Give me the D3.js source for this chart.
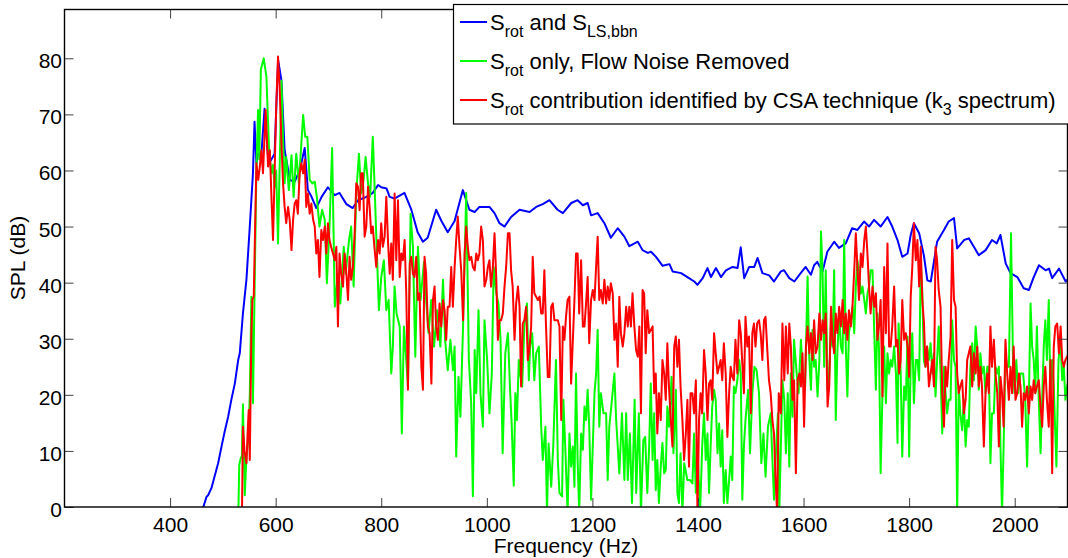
<!DOCTYPE html>
<html><head><meta charset="utf-8">
<script src="https://cdn.jsdelivr.net/npm/d3@7"></script>
<style>
html,body{margin:0;padding:0;background:#fff;}
svg{display:block;font-family:"Liberation Sans",Arial,Helvetica,sans-serif;}
</style></head><body>
<svg id="chart" width="1068" height="558"></svg>
<script>
const xTicks = [400, 600, 800, 1000, 1200, 1400, 1600, 1800, 2000];
const yTicks = [0, 10, 20, 30, 40, 50, 60, 70, 80];
const xTitle = "Frequency (Hz)";
const yTitle = "SPL (dB)";
const seriesColors = ["#0000ff", "#00ff00", "#ff0000"];
const legendLabels = [
  [["S", 0], ["rot", 1], [" and S", 0], ["LS,bbn", 1]],
  [["S", 0], ["rot", 1], [" only, Flow Noise Removed", 0]],
  [["S", 0], ["rot", 1], [" contribution identified by CSA technique (k", 0], ["3", 1], [" spectrum)", 0]]
];

const blueSeries = [[461,-2],[463,0],[469,1.8],[472,2.1],[478.5,3.4],[485,5.7],[491,7.8],[497.5,10.8],[504,13.7],[510,16.1],[516,19.1],[522.6,22],[529,26.2],[532,27.4],[538,34.5],[544.6,40.5],[551,50],[557,59.5],[560,68.7],[563.5,61.3],[566.7,63],[573,63],[579,71],[585.6,62.4],[591,61.8],[598,63],[604.6,79.7],[611,76],[617,63.6],[627,58.3],[636,58],[645.5,60],[655,64],[661,56.5],[668,55.3],[677,53.3],[687,55.3],[699,57],[712,55.6],[721,56],[734,54],[746,53.3],[756,54.7],[772,55.3],[784,56],[794,57.4],[800,57],[810,56.8],[816,55.3],[825,55],[844,56],[857,53],[869,49],[879,47.3],[888,48],[904,53],[914,51],[926,49],[939,51],[954.6,56.5],[967,53],[977,52.6],[986,53.5],[1005,53.5],[1014.6,52.4],[1024,50.6],[1033.5,50],[1046,51.7],[1062,53],[1081,52.6],[1093.5,53.5],[1106,54],[1118.6,54.7],[1134,53],[1144,52.4],[1160,54.2],[1172,54.7],[1182,53.8],[1191,54.2],[1197.5,52],[1210,52.4],[1222.7,50.6],[1235,48],[1248,49.7],[1260.6,48.2],[1270,46.5],[1286,47.3],[1295,45.8],[1305,45.3],[1311,45.5],[1320.5,44.6],[1333,43],[1346,43.3],[1352,42],[1368,41.7],[1380,41],[1393,40.2],[1399,39.6],[1409,40.8],[1418,42.6],[1424.6,41],[1434,42.6],[1443.5,41],[1453,42.2],[1465.5,42.8],[1475,42.6],[1481,46.3],[1487.6,40.8],[1497,42.8],[1506.6,42.8],[1513,44.4],[1522,41.7],[1535,41.3],[1544,40.2],[1557,42],[1563,42.2],[1573,40.8],[1582.6,40.2],[1592,41.4],[1604,42.8],[1614,41.4],[1620,43.1],[1626,43.7],[1636,42],[1645,45.5],[1658,47.3],[1667,46.2],[1680,47],[1692,49.7],[1702,49.4],[1714.6,50.9],[1724,50],[1733.6,51.2],[1746,50],[1759,51.7],[1768,50],[1778,47.6],[1787,44.6],[1797,45.2],[1803,48.5],[1809,50.6],[1819,48.8],[1828,44.8],[1834.5,40.4],[1841,40.2],[1853,47.3],[1866,49.4],[1875,50.9],[1885,51.5],[1891,46.1],[1904,47.6],[1913,47.9],[1922.6,46.4],[1932,44.9],[1945,45.8],[1957,47.6],[1966,47],[1973,48.5],[1983,43.4],[1992,41.7],[2005,41],[2017,39],[2027,38.7],[2036,41],[2046,43.1],[2058.5,42.2],[2065,42.5],[2071,40.8],[2084,42.5],[2096.5,40.2],[2100,40.5]];

const greenSeries = [[529,-3],[531,7.5],[534,8.8],[536,9],[538,18.3],[541.5,2.1],[544.7,9],[548,12],[551,20],[554,37.5],[557,18.5],[560,38],[563.5,60],[566.7,70.8],[569,62],[572,78],[577.4,80],[582.5,76.7],[587.5,63.6],[592,59.5],[595,61],[598,57],[601,60],[604.5,47],[611,76],[614,65.4],[617,57.7],[620,62.4],[625,56.5],[630,62.7],[634,55.3],[639,63],[644,57.7],[652,69.9],[656,66],[660,66],[664.5,58.3],[669.5,57.7],[674,58],[678,55.3],[683,50],[688,53],[693,51.2],[697,39.9],[702,50],[707,64],[712,35.7],[718,41.6],[722.5,36.3],[729,46.4],[732.6,41.6],[739,47.6],[743,50],[747.7,39.3],[752.7,55.9],[757.8,63],[762,55.9],[766.6,58.3],[770.4,62.4],[775,57.7],[779,55.3],[784,66],[787,58.3],[790,50],[793,42],[795.6,35.1],[800,41],[805,44],[809.6,35.1],[814,36.9],[819,23.8],[822,28.6],[825.3,39.3],[829,34.5],[835,32.2],[839,13.1],[843,32.2],[847.4,26.2],[850.6,21.5],[855.6,52.3],[860,46.4],[864.5,26.8],[869.5,46.4],[874.5,36.9],[881,43.7],[885,36.9],[889.7,31],[894.7,36.9],[900,28.6],[906,35.1],[912,28.6],[917,40.5],[921,29.8],[926,24.4],[931,29.8],[936,24.4],[939,28.6],[942,9],[946.4,23.2],[950,16.1],[955,32.2],[961,56],[966,26.2],[970.4,18.5],[973.6,1.9],[977,28],[980,20.3],[984.3,35.1],[988,20.3],[992.5,14.3],[995.6,33.3],[1000.6,26.2],[1005,16.7],[1009.5,23.8],[1013,42.8],[1018,38],[1022,36.3],[1026,29.8],[1030,9.6],[1035,27.4],[1040,31],[1044,21],[1047,15],[1051,3.8],[1054,20.3],[1057,15.5],[1060.6,26.2],[1063,23.8],[1067,21.5],[1071,32.2],[1076,36.3],[1079.6,22.6],[1082,28.6],[1086,31],[1090,22.6],[1093.5,27.4],[1098.5,28.6],[1103,14.3],[1106,8.4],[1111,14.3],[1114,-1],[1117,11.3],[1122,3.6],[1126,11.3],[1131,26.2],[1134.5,8.4],[1137.6,2.5],[1142.6,1.9],[1145,19.1],[1149,9.6],[1153,-1],[1156.5,13.1],[1159.7,7.2],[1163,10.8],[1166,3.6],[1169,23.8],[1172,8.4],[1175,-1],[1178.6,13.1],[1182,10.2],[1185,17.9],[1188,15.5],[1191,20.9],[1194,14.3],[1197.5,1.3],[1200.7,10.8],[1204,20.3],[1207,23.8],[1210,31.6],[1213,14.3],[1216,20.3],[1221,16.7],[1226,16.7],[1229,4.8],[1232,14.3],[1237,19.1],[1241.7,23.8],[1245,15.5],[1248,10.8],[1251,6],[1256,16.7],[1260.6,4.8],[1264,16.7],[1267,4.8],[1271,13.1],[1275,0.7],[1280,19.1],[1283,2.5],[1288,16.7],[1292,-1],[1296.5,11.9],[1300,12.5],[1304,2.5],[1307.5,10.8],[1310.6,22],[1314,8.4],[1317,16.7],[1320,3],[1323,8.4],[1326,0.7],[1329.5,7.2],[1332.7,11.4],[1336,6],[1339,6.6],[1342,17.9],[1345,14.3],[1350,23.2],[1353.5,9.6],[1358,20.9],[1361,2.5],[1364,0.7],[1367,9.6],[1370.5,-1],[1374,7.8],[1380,4.8],[1385,4.8],[1389.5,4.2],[1392.6,13.1],[1396,2.5],[1399,10.8],[1404,-1],[1408,10.8],[1411.5,16.7],[1414.7,8.4],[1418,13.1],[1421,2.5],[1424,10.8],[1427,17.9],[1430.5,20.9],[1433.6,19.1],[1437,9.6],[1440,14.9],[1443,7.2],[1446,13.7],[1449,0.7],[1452.5,6.6],[1455.7,0.7],[1459,4.8],[1462,9],[1465,4.8],[1468,21.5],[1471,20.3],[1474.6,22.6],[1478,26.2],[1481,23.8],[1484,1.3],[1487,10.8],[1490,15.5],[1495,20.9],[1498.6,9.6],[1503,20.3],[1507,25],[1511,24.4],[1515.6,20.3],[1520,7.8],[1524,13.1],[1528,5.4],[1532.6,14.3],[1537.7,16.7],[1541,8.4],[1544,1.3],[1547,8.4],[1551.5,16.7],[1554,-1],[1557,10.8],[1560,22.6],[1563.5,19.1],[1566.6,9.6],[1570,20.3],[1573,7.2],[1576,23.8],[1579,16.1],[1582,29.8],[1587,23.8],[1590.6,20.3],[1595,29.8],[1599,23.2],[1603,21.5],[1607.6,41.1],[1611,26.2],[1614,20.9],[1617,31.6],[1620,25],[1623,26.2],[1626.5,19.7],[1630,26.2],[1633,49.1],[1636,42.2],[1639,25],[1642,42.2],[1645.5,20.9],[1648.6,23.2],[1652,32.2],[1655,28.6],[1658,42.2],[1661,15.5],[1664,27.4],[1667.5,34.5],[1670.7,28.6],[1674,27.4],[1677,47.6],[1680,28.6],[1683,19.7],[1686,31],[1689.6,33.3],[1693,35.7],[1696,31],[1699,39.3],[1702,44],[1705,41.6],[1708.5,38],[1711.7,39.3],[1715,36.9],[1718,34.5],[1721,38],[1724,39.3],[1727,42.2],[1730.6,42.2],[1734,31],[1737,20.9],[1740,34.5],[1743,28],[1746,6],[1749.5,20.3],[1752.7,28.6],[1756,18.5],[1759,27.4],[1762,23.8],[1765,26.2],[1768,25],[1771.6,28.6],[1775,23.8],[1778,11.4],[1780,32.7],[1784,23.8],[1787,9],[1790.5,21.5],[1793.7,19.1],[1797,30.4],[1800,9],[1803,26.2],[1806,31],[1809,18.5],[1812.6,26.2],[1815.7,26.2],[1819,22.6],[1822,44],[1825,38],[1828,26],[1831,25],[1834,28.6],[1837.5,26.2],[1840.6,29.2],[1844,23.8],[1847,27.4],[1850,19.7],[1853,26.2],[1856,32.2],[1859.5,23.8],[1862.7,13.1],[1866,25],[1869,20.3],[1872,16.7],[1875,19.1],[1878.5,19.1],[1881.6,33.3],[1885,26.2],[1888,25],[1891,-1],[1894,21.5],[1897,16.7],[1900.5,13.7],[1903.7,19.1],[1907,10.8],[1910,15.5],[1913,14.3],[1916,25],[1919.5,29.2],[1922.6,22.6],[1926,32.2],[1929,28.6],[1932,20.9],[1935,27.4],[1938,23.8],[1941.5,25],[1944.7,20.3],[1948,25],[1951,25],[1954,7.8],[1957,16.7],[1960.5,16.7],[1963.6,25],[1967,23.8],[1970,25],[1973,10.8],[1976,-1],[1979,10.8],[1982.5,27.4],[1985.7,25],[1989,25],[1993,48.8],[1997,25],[1999.5,20.3],[2003,26.2],[2006.5,20.3],[2011,23.8],[2016,23.8],[2020,19.1],[2023.5,7.2],[2027,20.3],[2030,36.3],[2033,28.6],[2036,26.2],[2039,20.3],[2042,32.2],[2045.6,19.1],[2049,9.6],[2052,19.1],[2055,28.6],[2058,33.3],[2061,26.2],[2064.5,36.9],[2067.7,20.3],[2071,26.2],[2074,21.5],[2079,7.2],[2083,26.2],[2086.6,29.8],[2090,22.6],[2093,25],[2096,19.1],[2100,22]];

const redSeries = [[536,-3],[538,14.3],[541,10],[544.7,7.8],[547,13.5],[549,17.3],[551,8.4],[554,31],[556,37],[558.5,37.5],[563.5,61.3],[567,58.3],[570,60.7],[573,63.6],[576,59.5],[581,70.8],[585.6,60.7],[589,63.6],[592,55.3],[595,47.6],[598,59.5],[601,71.4],[604.5,80.3],[607.7,74.3],[611,64.8],[614,57.7],[617,53.5],[620,50.6],[623.5,53.5],[626.6,51.2],[630,45.8],[633,51.2],[636,54.1],[639,54.7],[642,52.3],[645.5,59.5],[648.7,61.3],[652,59.5],[655,61.9],[658,53.5],[661,55.9],[664.5,52.3],[667.6,54.1],[671,51.2],[674,50],[677,45.2],[680,47.6],[683,41],[686.5,49.4],[689.7,47.6],[693,50],[696,45.2],[699,50.6],[702,47.6],[705,46.4],[708.6,45.2],[712,44],[715,46.4],[718,32.2],[721,45.2],[724,41.6],[727.5,39.3],[730.7,45.2],[734,41.6],[737,36.9],[740,44.6],[743,40.5],[746.4,42.8],[749.6,48.8],[752.7,57.7],[756,57.1],[759,52.9],[762,59.5],[765,59.5],[768.5,48.2],[771.7,50],[775,57.1],[778,53.5],[781,48.8],[784,50],[787,46.4],[790.6,42.8],[794,47.6],[797,45.2],[800,50.6],[803,46.4],[806.4,48.2],[809.6,55.3],[813,47],[816,41.6],[819,47],[822,40.5],[825.3,55.9],[828.5,44],[831.7,54.7],[835,41],[838,45.2],[841,44],[844.3,47.6],[847.4,38.1],[850.6,20.9],[854,43.4],[857,44.6],[860,41.6],[863,41],[866.3,44.6],[869.5,36.9],[872.6,38.1],[876,25],[879,20.9],[882,44.6],[885,41.6],[888.4,32.2],[891.6,31],[895,22],[898,36.9],[901,39.3],[904,32.2],[907.3,29.8],[910.5,36.3],[913.6,32.2],[917,36.9],[920,35.1],[923,29.8],[926,35.7],[929.4,35.7],[932.6,42.8],[935.7,35.7],[939,42.8],[942,47.6],[945,51.8],[948.3,46.4],[951.5,42.2],[955,33.3],[958,45.2],[961,50],[964,46.4],[967,44],[970.4,44.6],[973.6,42.8],[977,42.2],[980,45.2],[983,44],[986,45.2],[989.3,50],[992.5,47.6],[995.6,39.3],[999,40.5],[1002,42.8],[1005,44],[1008,39.3],[1011.4,42.8],[1014.6,48.8],[1018,40.5],[1021,29.8],[1024,33.3],[1027,33.3],[1030.3,34.5],[1033.5,39.3],[1036.6,42.8],[1040,48.8],[1043,48.8],[1046,42.2],[1049,39.3],[1052.5,29.8],[1055.6,36.3],[1059,39.3],[1062,35.7],[1065,21.5],[1068,32.7],[1071,33.3],[1074.5,35.7],[1077.7,26.2],[1081,28.6],[1084,32.2],[1087,44.6],[1090,38.1],[1093.5,37.5],[1096.6,36.9],[1100,37.5],[1103,34.5],[1106,34.5],[1109,42.2],[1112,32.7],[1115.5,23.2],[1118.7,23.2],[1122,35.7],[1125,36.3],[1128,33.3],[1131,33.3],[1134.5,33.3],[1137.6,32.2],[1141,15.5],[1144,32.2],[1147,29.8],[1150,33.9],[1153,36.9],[1156.5,37.5],[1159.7,22],[1163,29.8],[1166,36.9],[1169,45.2],[1172,45.2],[1175,34.5],[1178.6,44],[1182,32.2],[1185,32.2],[1188,36.3],[1191,41],[1194,29.2],[1197.5,36.9],[1200.7,38.7],[1204,36.9],[1207,42.8],[1210,48.2],[1213,36.9],[1216,38.7],[1219.6,36.3],[1222.7,40.5],[1226,36.3],[1229,39.3],[1232,36.9],[1235,39.9],[1238.5,38.1],[1241.7,29.8],[1245,32.7],[1248,25],[1251,37.5],[1254,31],[1257.5,28.6],[1260.6,31],[1264,35.7],[1267,32.2],[1270,35.7],[1273,32.2],[1276,38.1],[1279.5,32.2],[1282.7,28],[1286,26.8],[1289,32.2],[1292,16.7],[1295,38.7],[1298,38.1],[1301,27.4],[1304,35.1],[1307.5,31],[1314,32.2],[1317,20.3],[1320,23.8],[1323,13.1],[1326,20.3],[1329.5,15.5],[1332.7,26.2],[1336,23.8],[1339,19.1],[1342,29.2],[1345,21.5],[1348.5,15.5],[1351.6,10.8],[1355,28.6],[1358,30.4],[1361,25],[1364,29.8],[1367,21.5],[1370.5,15.5],[1373.7,8.4],[1377,13.1],[1380,19.1],[1383,7.2],[1386,20.3],[1389.5,20.3],[1392.6,16.7],[1396,22.6],[1399,-1],[1402,15.5],[1405,20.3],[1408,16.7],[1411.5,28],[1414.7,23.8],[1418,15.5],[1421,22],[1424,22.6],[1427,19.1],[1430.5,31],[1433.6,27.4],[1437,23.8],[1440,25],[1443,26.2],[1446,22.6],[1449,29.2],[1452.5,23.8],[1455.7,12.5],[1459,20.3],[1462,25],[1465,23.2],[1468,22.6],[1471,29.8],[1474.6,23.8],[1478,33.3],[1481,31],[1484,25.6],[1487,20.3],[1490,33.9],[1493.5,28.6],[1496.7,30.4],[1500,16.7],[1503,31],[1506,32.7],[1509,28.6],[1512,32.7],[1515.6,33.3],[1518.7,31],[1522,26.2],[1525,33.3],[1528,33.9],[1531,28.6],[1534.5,22.6],[1537.7,20.3],[1541,15.5],[1544,13.1],[1547,4.8],[1550,-1],[1553,20.3],[1557,16.7],[1560,32.7],[1563.5,22.6],[1566.6,32.2],[1570,23.8],[1573,32.7],[1576,28.6],[1579,19.1],[1582,22.6],[1585.5,6],[1588.7,22.6],[1592,23.8],[1595,21.5],[1598,27.4],[1601,14.3],[1604.5,28.6],[1607.6,32.2],[1611,27.4],[1614,31],[1617,26.2],[1620,33.3],[1623,27.4],[1626.5,28.6],[1630,34.5],[1633,29.8],[1636,33.3],[1639,31],[1642,34.5],[1645.5,17.9],[1648.6,21.5],[1652,35.7],[1655,29.8],[1658,27.4],[1661,34.5],[1664,31],[1667.5,35.7],[1670.7,32.2],[1674,36.9],[1677,31],[1680,34.5],[1683,29.8],[1686,35.1],[1689.6,32.2],[1693,36.3],[1696,42.2],[1699,48.8],[1702,42.8],[1705,36.9],[1708.5,45.2],[1711.7,42.8],[1715,47.6],[1718,50],[1721,45.2],[1724,39.3],[1727,34.5],[1730.6,39.3],[1734,35.7],[1737,38.1],[1740,29.8],[1743,32.2],[1746,36.9],[1749.5,19.7],[1752.7,42.8],[1756,31],[1759,47],[1762,28.6],[1765,28.6],[1768,32.2],[1771.6,39.3],[1775,28.6],[1778,29.8],[1781,23.8],[1784,26.2],[1787,36.9],[1790.5,29.8],[1793.7,31],[1797,28.6],[1800,23.2],[1803,37.5],[1806,42.8],[1809,50.6],[1812.6,44],[1815.7,47.6],[1819,39.3],[1822,46.4],[1825,36.9],[1828,33],[1831,25],[1834,28.6],[1837.5,21.5],[1840.6,23.8],[1844,26.2],[1847,21.5],[1850,46.4],[1853,44],[1856,38.7],[1859.5,35.7],[1862.7,20.3],[1866,14.3],[1869,25],[1872,21.5],[1875,26.2],[1878.5,30.4],[1881.6,47.6],[1885,36.9],[1888,35.7],[1891,23.8],[1894,20.3],[1897,21.5],[1900.5,22.6],[1903.7,16.7],[1907,19.1],[1910,26.2],[1913,27.4],[1916,28.6],[1919.5,21.5],[1922.6,27.4],[1926,23.8],[1929,28.6],[1932,21.5],[1935,25],[1938,21.5],[1941.5,10.8],[1944.7,20.3],[1948,23.8],[1951,20.3],[1954,32.2],[1957,25],[1960.5,29.8],[1963.6,23.8],[1967,20.3],[1970,10.8],[1973,23.2],[1976,20.3],[1979,14.3],[1982.5,29.8],[1985.7,23.8],[1989,19.1],[1992,25],[1995,20.3],[1998,28.6],[2001.5,19.1],[2004.6,20.3],[2008,23.8],[2011,21.5],[2014,14.3],[2017,20.3],[2020,19.1],[2023.5,21.5],[2026.7,16.7],[2030,21.5],[2033,19.1],[2036,22.6],[2039,20.3],[2042,21.5],[2045.6,22.6],[2049,17.9],[2052,14.3],[2055,21.5],[2058,25],[2061,19.1],[2064.5,14.3],[2067.7,26.2],[2071,6],[2074,28.6],[2077,32.2],[2080.5,32.7],[2083.7,27.4],[2087,32.2],[2090,26.2],[2093,25],[2096,26.2],[2100,27]];

const svg = d3.select("#chart");
const L = 64.5, R = 1067.5, T = 9.5, B = 507;
const x = d3.scaleLinear().domain([200, 2100]).range([L, R]);
const y = d3.scaleLinear().domain([0, 88.7]).range([B, T]);

svg.append("rect").attr("width", 1068).attr("height", 558).attr("fill", "#fff");

svg.append("defs").append("clipPath").attr("id", "plotclip")
  .append("rect").attr("x", L).attr("y", T).attr("width", R - L).attr("height", B - T);

const line = d3.line().x(d => x(d[0])).y(d => y(d[1]));
const plot = svg.append("g").attr("clip-path", "url(#plotclip)");
[blueSeries, greenSeries, redSeries].forEach((s, i) => {
  plot.append("path").datum(s).attr("d", line)
    .attr("fill", "none").attr("stroke", seriesColors[i])
    .attr("stroke-width", 2).attr("stroke-linejoin", "round");
});

const fmt = d3.format("d");
function styleAxis(g, showText) {
  g.select(".domain").remove();
  g.selectAll(".tick line").attr("stroke", "#404040").attr("stroke-width", 1);
  g.selectAll(".tick text").attr("fill", "#000").style("font-size", "21px")
    .style("font-family", '"Liberation Sans", Arial, Helvetica, sans-serif');
  if (!showText) g.selectAll(".tick text").remove();
}
const gx = svg.append("g").attr("transform", `translate(0,${B})`)
  .call(d3.axisBottom(x).tickValues(xTicks).tickFormat(fmt).tickSize(-9).tickPadding(10));
styleAxis(gx, true);
const gxt = svg.append("g").attr("transform", `translate(0,${T})`)
  .call(d3.axisTop(x).tickValues(xTicks).tickFormat(fmt).tickSize(-9));
styleAxis(gxt, false);
const gy = svg.append("g").attr("transform", `translate(${L},0)`)
  .call(d3.axisLeft(y).tickValues(yTicks).tickFormat(fmt).tickSize(-9).tickPadding(2.5));
styleAxis(gy, true);
gy.selectAll(".tick text").attr("dy", "0.45em");
const gyr = svg.append("g").attr("transform", `translate(${R},0)`)
  .call(d3.axisRight(y).tickValues(yTicks).tickFormat(fmt).tickSize(-9));
styleAxis(gyr, false);

svg.append("rect").attr("x", L).attr("y", T).attr("width", R - L).attr("height", B - T)
  .attr("fill", "none").attr("stroke", "#000").attr("stroke-width", 1.4);

svg.append("text").attr("x", (L + R) / 2).attr("y", 553).attr("text-anchor", "middle")
  .style("font-size", "21px").text(xTitle);
svg.append("text").attr("transform", "translate(25,258) rotate(-90)").attr("text-anchor", "middle")
  .style("font-size", "21px").text(yTitle);

// legend
const lg = svg.append("g");
lg.append("rect").attr("x", 453.5).attr("y", 4.5).attr("width", 640).attr("height", 119.5)
  .attr("fill", "#fff").attr("stroke", "#000").attr("stroke-width", 1.2);
const rowY = [22, 61, 100];
legendLabels.forEach((parts, i) => {
  lg.append("line").attr("x1", 460).attr("x2", 487).attr("y1", rowY[i]).attr("y2", rowY[i])
    .attr("stroke", seriesColors[i]).attr("stroke-width", 2);
  const t = lg.append("text").attr("x", 490).attr("y", rowY[i] + 8).style("font-size", "22px");
  let sub = 0;
  parts.forEach(p => {
    const ts = t.append("tspan").text(p[0]);
    if (p[1] && !sub) { ts.attr("dy", 7).style("font-size", "16px"); sub = 1; }
    else if (p[1]) { ts.style("font-size", "16px"); }
    else if (sub) { ts.attr("dy", -7); sub = 0; }
  });
});
</script>
</body></html>
